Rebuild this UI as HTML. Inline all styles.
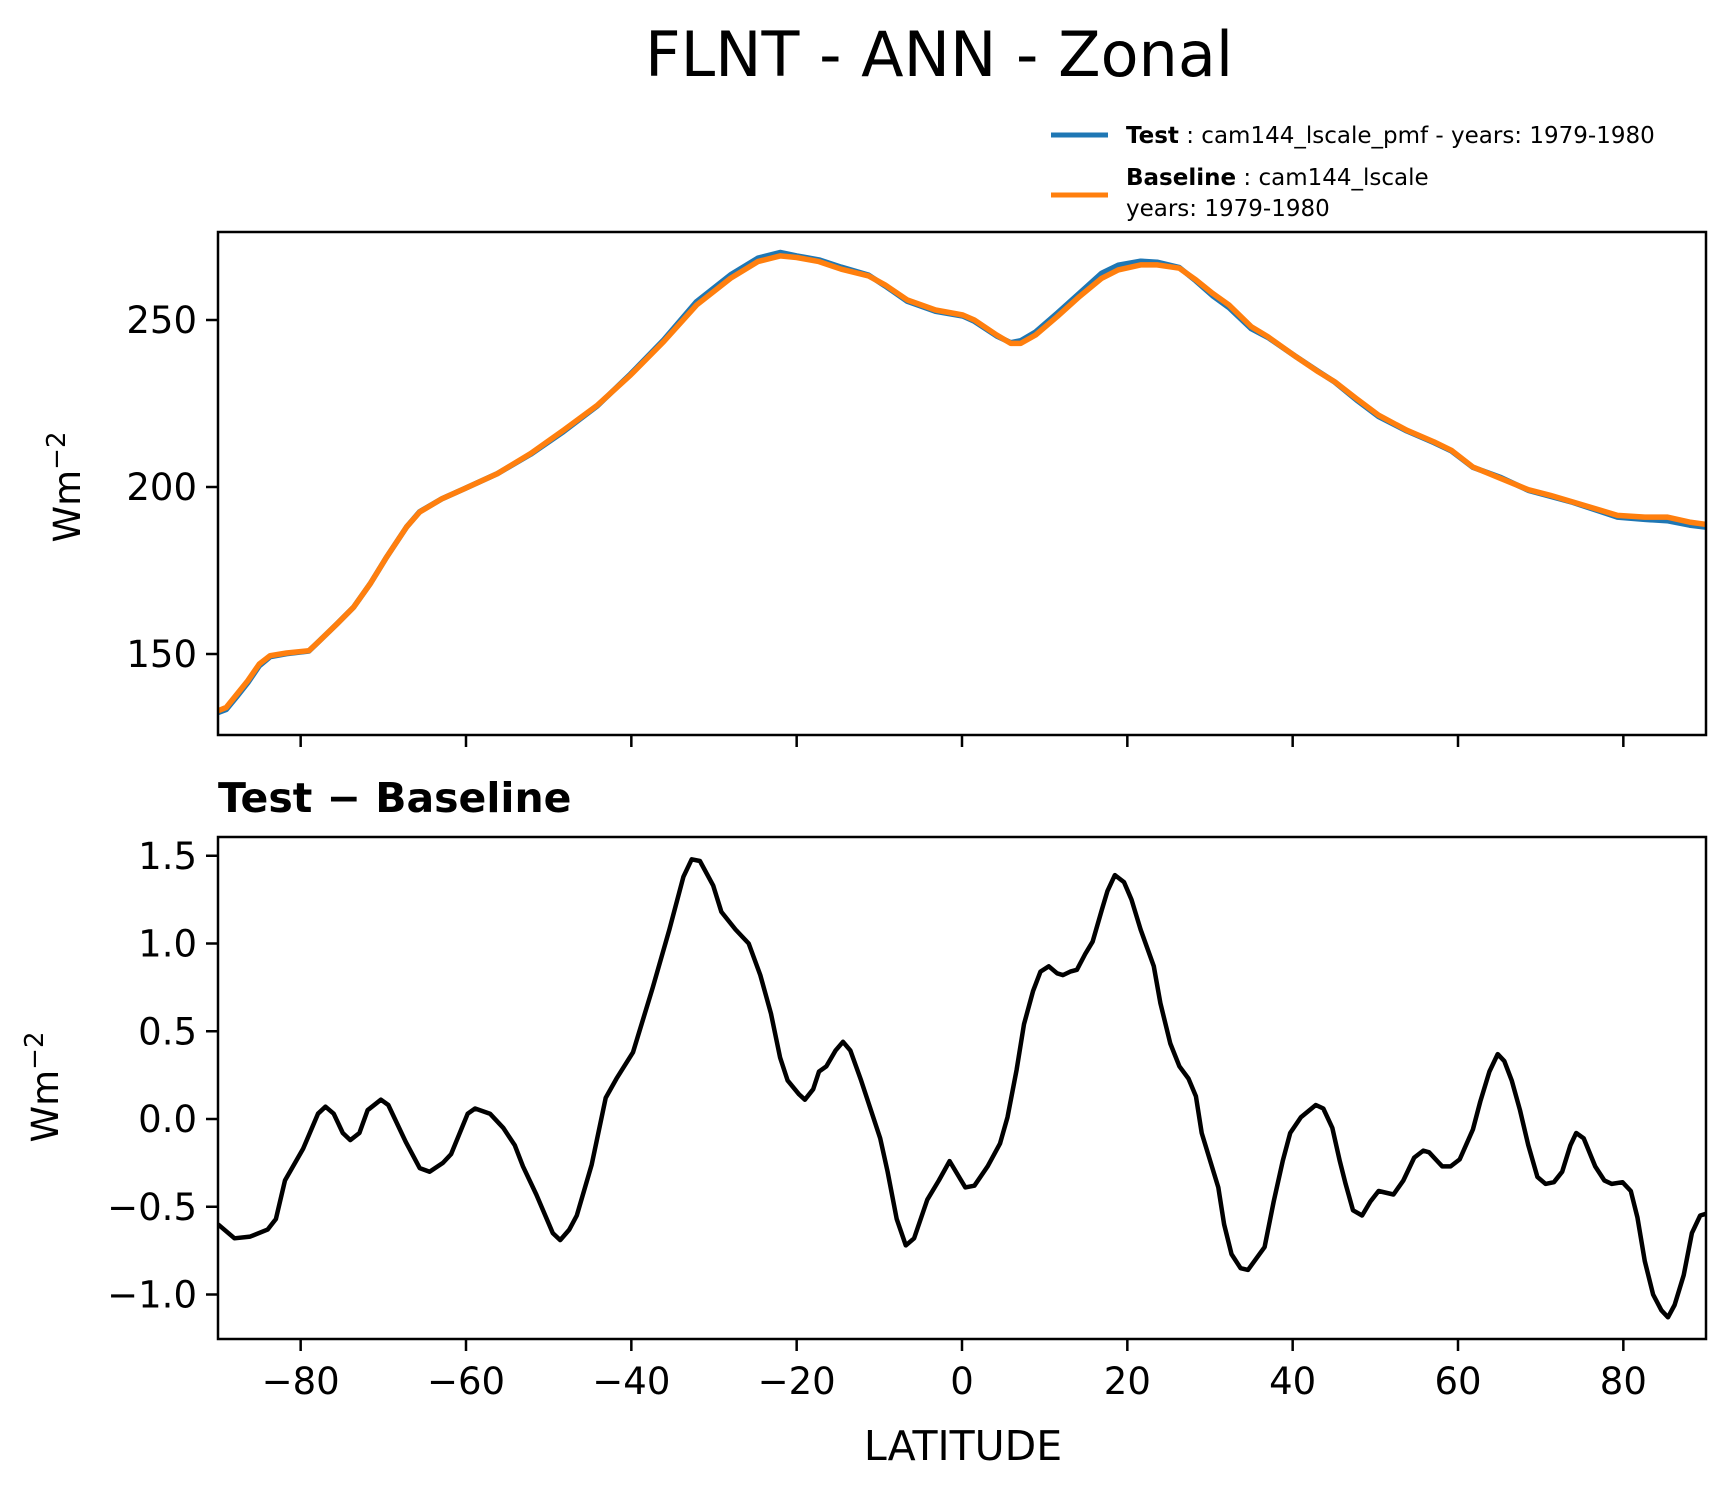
<!DOCTYPE html>
<html><head><meta charset="utf-8"><style>
html,body{margin:0;padding:0;background:#fff;}
svg{display:block;font-family:"DejaVu Sans","Liberation Sans",sans-serif;}
</style></head><body>
<svg id="chart" width="1736" height="1496" viewBox="0 0 1736 1496" xmlns="http://www.w3.org/2000/svg">
<text x="939" y="76" font-size="62" text-anchor="middle">FLNT - ANN - Zonal</text>
<g>
<line x1="1051" y1="135" x2="1108" y2="135" stroke="#1f77b4" stroke-width="5"/>
<text x="1126" y="143" font-size="23"><tspan font-weight="bold">Test</tspan> : cam144_lscale_pmf - years: 1979-1980</text>
<line x1="1051" y1="195" x2="1108" y2="195" stroke="#ff7f0e" stroke-width="5"/>
<text x="1126" y="185" font-size="23"><tspan font-weight="bold">Baseline</tspan> : cam144_lscale</text>
<text x="1126" y="216" font-size="23">years: 1979-1980</text>
</g>
<g id="topPanel"></g>
<g id="botPanel"></g>
<text x="218" y="812" font-size="41" font-weight="bold">Test − Baseline</text>
<text x="963" y="1460" font-size="41" text-anchor="middle">LATITUDE</text>
<text transform="translate(80,487) rotate(-90)" font-size="37" text-anchor="middle">Wm<tspan dy="-15" font-size="26">−2</tspan></text>
<text transform="translate(58,1087) rotate(-90)" font-size="37" text-anchor="middle">Wm<tspan dy="-15" font-size="26">−2</tspan></text>
</svg>
<script>
const topLats = [-90,-89,-87.7,-86.4,-85,-83.7,-81.7,-79,-77.7,-75.6,-73.6,-71.6,-69.6,-67.2,-65.6,-62.9,-60.2,-56.2,-52.2,-48.2,-44.1,-40.1,-36.1,-32.1,-28,-24.7,-22,-20,-17.3,-14.6,-11.3,-9.3,-6.6,-3.2,0.1,1.5,4.2,5.9,7.1,8.9,11.5,14.2,16.9,18.9,21.6,23.6,26.3,28.3,30.3,32.3,35,37,40.4,43.1,45.1,47.7,50.4,53.8,57.1,59.2,61.8,65.2,68.5,71.2,73.9,77.3,79.3,82.6,85.3,88,90];
const baselineVals = [133,134,138,142,147,149.5,150.3,151,154,159,164,171,179,188,192.5,196.5,199.5,204,210,217,224.5,233.5,243.5,254.5,262.5,267.5,269.2,268.7,267.5,265.2,263.2,260.5,256,253,251.5,250,245.5,243,243,245.5,251,257,262.5,265,266.5,266.5,265.5,262,258,254.5,248,245,239,234.5,231.5,226.5,221.5,217,213.5,211,206,202.5,199.2,197.5,195.5,193,191.5,191,191,189.5,188.8];
const testVals = [132.5,133.4,137.3,141.4,146.5,149.2,150.1,150.9,154,159,164,171,179,188,192.6,196.5,199.5,204,209.8,216.6,224.3,233.8,244,255.5,263.5,268.5,270.2,269.2,268,265.8,263.4,260.2,255.6,252.6,251.2,249.6,245.2,243.2,243.8,246.4,252,258,264,266.4,267.6,267.3,265.7,261.7,257.3,253.7,247.4,244.8,239,234.6,231.4,226.1,221.1,216.8,213.3,210.8,205.9,202.8,199,197.2,195.4,192.6,191,190.3,189.9,188.6,188];
const diffLats = [-90,-88,-86.1,-84,-83,-81.9,-79.7,-77.9,-77,-76,-74.9,-74,-72.9,-71.9,-70.3,-69.4,-67.3,-65.6,-64.4,-62.8,-61.8,-59.8,-58.9,-57.1,-55.5,-54.1,-53.1,-51.5,-49.5,-48.6,-47.5,-46.6,-44.8,-43.1,-41.8,-39.8,-37.4,-35.4,-33.7,-32.7,-31.7,-30.1,-29.1,-27.4,-25.8,-24.4,-23.1,-22,-21.1,-19.7,-19,-18,-17.3,-16.4,-15.3,-14.4,-13.5,-12.2,-9.9,-9,-7.9,-6.8,-5.8,-4.2,-2.8,-1.5,0.4,1.5,3.1,4.6,5.5,6.6,7.5,8.6,9.5,10.5,11.5,12.2,13.1,13.9,14.9,15.8,16.9,17.6,18.5,19.6,20.5,21.6,23.2,24,25.2,26.3,27.4,28.3,29,29.9,31,31.7,32.6,33.7,34.6,36.6,37.7,38.8,39.7,41,42.8,43.7,44.8,45.7,46.4,47.3,48.4,49.4,50.4,52.2,53.4,54.7,55.8,56.5,57.5,58.1,59.1,60.2,61.8,62.7,63.8,64.8,65.6,66.5,67.5,68.5,69.6,70.6,71.6,72.6,73.6,74.3,75.2,76.6,77.7,78.6,79.9,80.9,81.7,82.6,83.6,84.6,85.4,86.2,87.3,88.3,89.3,90];
const diffVals = [-0.6,-0.68,-0.67,-0.63,-0.57,-0.35,-0.17,0.03,0.07,0.03,-0.08,-0.12,-0.08,0.05,0.11,0.08,-0.13,-0.28,-0.3,-0.25,-0.2,0.03,0.06,0.03,-0.05,-0.15,-0.27,-0.43,-0.65,-0.69,-0.63,-0.55,-0.26,0.12,0.23,0.38,0.75,1.08,1.38,1.48,1.47,1.33,1.18,1.08,1.0,0.82,0.6,0.35,0.22,0.14,0.11,0.17,0.27,0.3,0.39,0.44,0.39,0.22,-0.11,-0.3,-0.57,-0.72,-0.68,-0.46,-0.35,-0.24,-0.39,-0.38,-0.27,-0.14,0.01,0.28,0.54,0.73,0.84,0.87,0.83,0.82,0.84,0.85,0.94,1.01,1.19,1.3,1.39,1.35,1.25,1.08,0.87,0.66,0.43,0.3,0.23,0.13,-0.08,-0.22,-0.39,-0.6,-0.77,-0.85,-0.86,-0.73,-0.47,-0.24,-0.08,0.01,0.08,0.06,-0.05,-0.24,-0.37,-0.52,-0.55,-0.47,-0.41,-0.43,-0.35,-0.22,-0.18,-0.19,-0.24,-0.27,-0.27,-0.23,-0.06,0.1,0.27,0.37,0.33,0.22,0.05,-0.15,-0.33,-0.37,-0.36,-0.3,-0.15,-0.08,-0.11,-0.27,-0.35,-0.37,-0.36,-0.41,-0.56,-0.81,-1.0,-1.09,-1.13,-1.06,-0.89,-0.65,-0.55,-0.54];
const xTicks = [-80,-60,-40,-20,0,20,40,60,80];
const xTickLabels = ["−80","−60","−40","−20","0","20","40","60","80"];
const topYTicks = [150,200,250];
const botYTicks = [-1.0,-0.5,0.0,0.5,1.0,1.5];
const botYTickLabels = ["−1.0","−0.5","0.0","0.5","1.0","1.5"];

const NS="http://www.w3.org/2000/svg";
const X0=218, X1=1706;
const xs = v => X0 + (v+90)/180*(X1-X0);
const topT=232, topB=735, ty = v => 487 - (v-200)*(167/50);
const botT=837, botB=1339, by = v => 1119 - v*175.5;
function mk(tag, attrs, parent){const e=document.createElementNS(NS,tag);for(const k in attrs)e.setAttribute(k,attrs[k]);parent.appendChild(e);return e;}
const topG=document.getElementById('topPanel'), botG=document.getElementById('botPanel');

function clip(id, t, b){const d=mk('clipPath',{id:id},document.getElementById('chart'));mk('rect',{x:X0,y:t,width:X1-X0,height:b-t},d);}
clip('ct',topT,topB); clip('cb',botT,botB);

function line(parent, lats, vals, yf, color, w, name, cp){
  const pts=lats.map((l,i)=>xs(l).toFixed(1)+','+yf(vals[i]).toFixed(1)).join(' ');
  const p=mk('polyline',{points:pts,fill:'none',stroke:color,'stroke-width':w,'stroke-linejoin':'round','clip-path':'url(#'+cp+')'},parent);
  
  
}
line(topG, topLats, testVals, ty, '#1f77b4', 5.5, 'test-line', 'ct');
line(topG, topLats, baselineVals, ty, '#ff7f0e', 5.5, 'baseline-line', 'ct');
line(botG, diffLats, diffVals, by, '#000', 4.5, 'difference-line', 'cb');

function frame(parent,t,b,name){const r=mk('rect',{x:X0,y:t,width:X1-X0,height:b-t,fill:'none',stroke:'#000','stroke-width':2.5},parent);
  
  }
frame(topG,topT,topB,'top-axes-frame'); frame(botG,botT,botB,'bottom-axes-frame');

xTicks.forEach((v,i)=>{
  const x=xs(v);
  const t1=mk('line',{x1:x,y1:topB,x2:x,y2:topB+12,stroke:'#000','stroke-width':2.5},topG);
  
  
  const t2=mk('line',{x1:x,y1:botB,x2:x,y2:botB+12,stroke:'#000','stroke-width':2.5},botG);
  
  
  const tx=mk('text',{x:x,y:botB+55,'font-size':37,'text-anchor':'middle'},botG);
  tx.textContent=xTickLabels[i];
  
  
});
topYTicks.forEach(v=>{
  const y=ty(v);
  const t=mk('line',{x1:X0-12,y1:y,x2:X0,y2:y,stroke:'#000','stroke-width':2.5},topG);
  
  
  const tx=mk('text',{x:X0-21,y:y+13,'font-size':37,'text-anchor':'end'},topG);
  tx.textContent=String(v);
  
  
});
botYTicks.forEach((v,i)=>{
  const y=by(v);
  const t=mk('line',{x1:X0-12,y1:y,x2:X0,y2:y,stroke:'#000','stroke-width':2.5},botG);
  
  
  const tx=mk('text',{x:X0-21,y:y+13,'font-size':37,'text-anchor':'end'},botG);
  tx.textContent=botYTickLabels[i];
  
  
});
</script>
</body></html>
